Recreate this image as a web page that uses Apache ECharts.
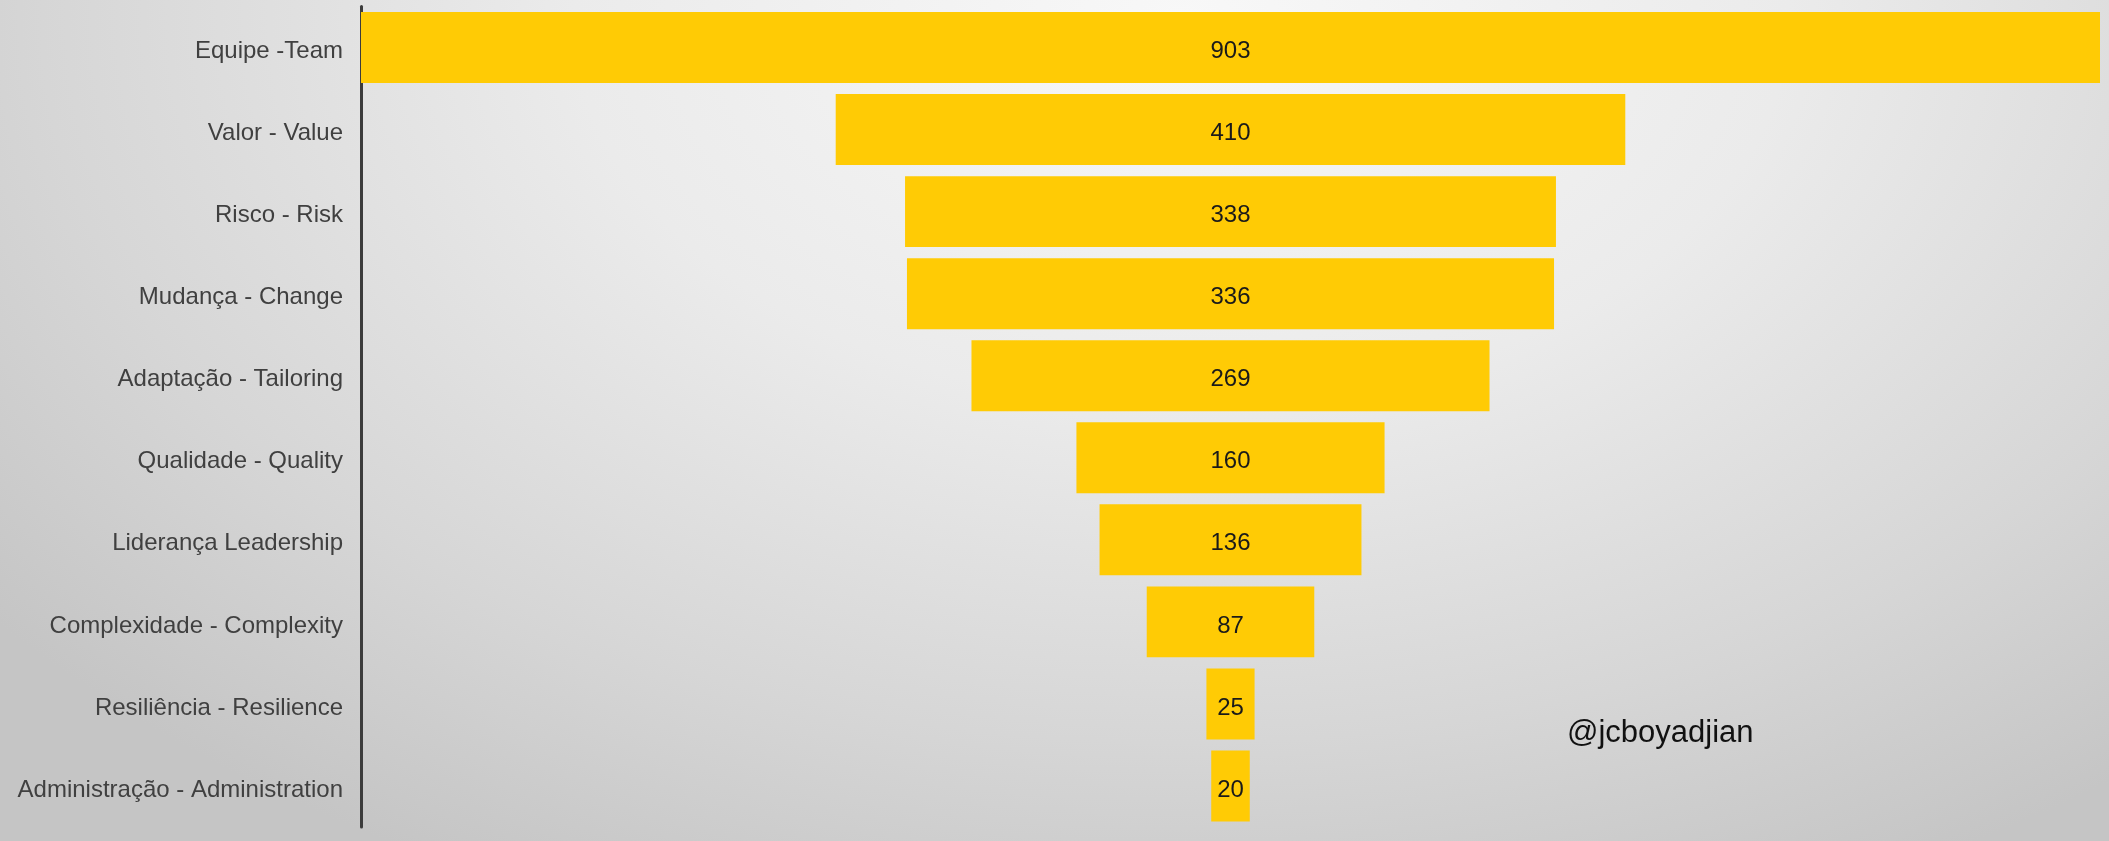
<!DOCTYPE html>
<html>
<head>
<meta charset="utf-8">
<style>
html,body{margin:0;padding:0;}
body{width:2109px;height:841px;overflow:hidden;
background:radial-gradient(ellipse 72% 115% at 56% 2%, #f8f8f8 0%, #ebebeb 40%, #d6d6d6 75%, #c5c5c5 100%);}
#c{width:2109px;height:841px;}
</style>
<script src="https://cdn.jsdelivr.net/npm/echarts@6/dist/echarts.min.js"></script>
</head>
<body>
<div id="c"></div>
<script>
const categories = ['Equipe -Team','Valor - Value','Risco - Risk','Mudança - Change','Adaptação - Tailoring','Qualidade - Quality','Liderança Leadership','Complexidade - Complexity','Resiliência - Resilience','Administração - Administration'];
const values = [903, 410, 338, 336, 269, 160, 136, 87, 25, 20];
const watermark = '@jcboyadjian';

const maxVal = Math.max(...values);
const offsets = values.map(v => (maxVal - v) / 2);

const chart = echarts.init(document.getElementById('c'), null, {renderer:'canvas'});
chart.setOption({
  backgroundColor: 'transparent',
  animation: false,
  grid: {left: 361, right: 9, top: 6.5, bottom: 14, containLabel: false},
  xAxis: {type:'value', min:0, max:maxVal, show:false},
  yAxis: {
    type:'category', data: categories, inverse: true,
    axisLine:{show:true, lineStyle:{color:'#3c3c3c', width:3}},
    axisTick:{show:false},
    axisLabel:{
      margin:18,
      formatter: v => '{a|' + v + '}',
      rich:{a:{color:'#404040', fontSize:24, fontFamily:'Liberation Sans, Arial, sans-serif', padding:[8,0,0,0]}}
    }
  },
  series: [
    {type:'bar', stack:'f', data: offsets, itemStyle:{color:'transparent'}, silent:true, barCategoryGap:'13.5%'},
    {type:'bar', stack:'f', barCategoryGap:'13.5%',
      data: values,
      itemStyle:{color:'#FFCB05'},
      label:{show:true, position:'inside', offset:[0,4], color:'#1a1a1a', fontSize:24, fontFamily:'Liberation Sans, Arial, sans-serif'}
    }
  ],
  graphic: [{
    type:'text', left:1567, top:718,
    style:{text: watermark, fill:'#111', font:'31px "Liberation Sans", Arial, sans-serif'}
  }]
});
</script>
</body>
</html>
